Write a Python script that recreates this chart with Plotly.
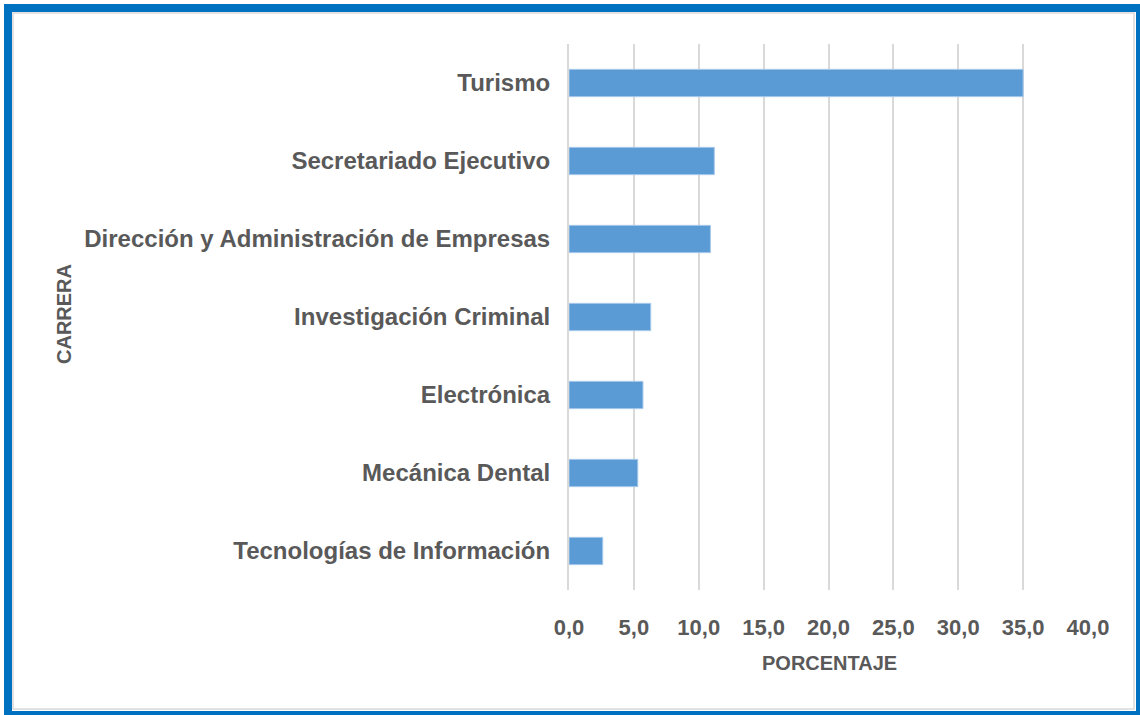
import plotly.graph_objects as go

carreras = [
    "Tecnologías de Información",
    "Mecánica Dental",
    "Electrónica",
    "Investigación Criminal",
    "Dirección y Administración de Empresas",
    "Secretariado Ejecutivo",
    "Turismo",
]
porcentajes = [2.6, 5.3, 5.7, 6.3, 10.9, 11.2, 35.0]
x_ticks = [0, 5, 10, 15, 20, 25, 30, 35, 40]
x_tick_labels = ["0,0", "5,0", "10,0", "15,0", "20,0", "25,0", "30,0", "35,0", "40,0"]

W, H = 1140, 715
L, R, T, B = 569, 52, 44, 125
pw, ph = W - L - R, H - T - B

def px(x):
    return (x - L) / pw

def py(y):
    return (H - B - y) / ph

FONT = "Liberation Sans, Arial, sans-serif"

fig = go.Figure(go.Bar(
    x=porcentajes, y=carreras, orientation="h",
    marker=dict(color="#5b9bd5", line=dict(color="#a9c9ea", width=1)),
))

fig.update_layout(
    width=W, height=H,
    margin=dict(l=L, r=R, t=T, b=B, autoexpand=False),
    paper_bgcolor="white", plot_bgcolor="white",
    bargap=0.65,
    showlegend=False,
    font=dict(family=FONT, color="#595959"),
    xaxis=dict(
        range=[0, 40], tickvals=x_ticks, ticktext=x_tick_labels,
        showgrid=True, gridcolor="#d9d9d9", gridwidth=2,
        zeroline=False, showline=False, ticks="",
        tickfont=dict(size=22, color="#595959", family=FONT, weight="bold"),
        ticklabelstandoff=22,
        fixedrange=True,
    ),
    yaxis=dict(
        categoryorder="array", categoryarray=carreras,
        range=[-0.5, 6.5],
        showgrid=False, zeroline=False, showline=True, linecolor="#d9d9d9", linewidth=2,
        ticks="",
        tickfont=dict(size=24, color="#595959", family=FONT, weight="bold"),
        ticklabelstandoff=12,
        fixedrange=True,
    ),
    annotations=[
        dict(text="<b>PORCENTAJE</b>", x=px(829), y=py(663), xref="paper", yref="paper",
             showarrow=False, xanchor="center", yanchor="middle",
             font=dict(size=20, color="#595959", family=FONT)),
        dict(text="<b>CARRERA</b>", x=px(64), y=py(314), xref="paper", yref="paper",
             showarrow=False, xanchor="center", yanchor="middle", textangle=-90,
             font=dict(size=20, color="#595959", family=FONT)),
    ],
    shapes=[
        dict(type="rect", xref="paper", yref="paper",
             x0=px(13), x1=px(1134), y0=py(13), y1=py(709),
             line=dict(color="#d9d9d9", width=1.5), layer="below"),
        dict(type="rect", xref="paper", yref="paper",
             x0=px(8), x1=px(1140), y0=py(8), y1=py(715),
             line=dict(color="#0070c0", width=8), layer="above"),
    ],
)

fig.write_html(
    "out.html",
    config={"displayModeBar": False},
    post_script="document.body.style.margin='0';document.body.style.padding='0';",
)
